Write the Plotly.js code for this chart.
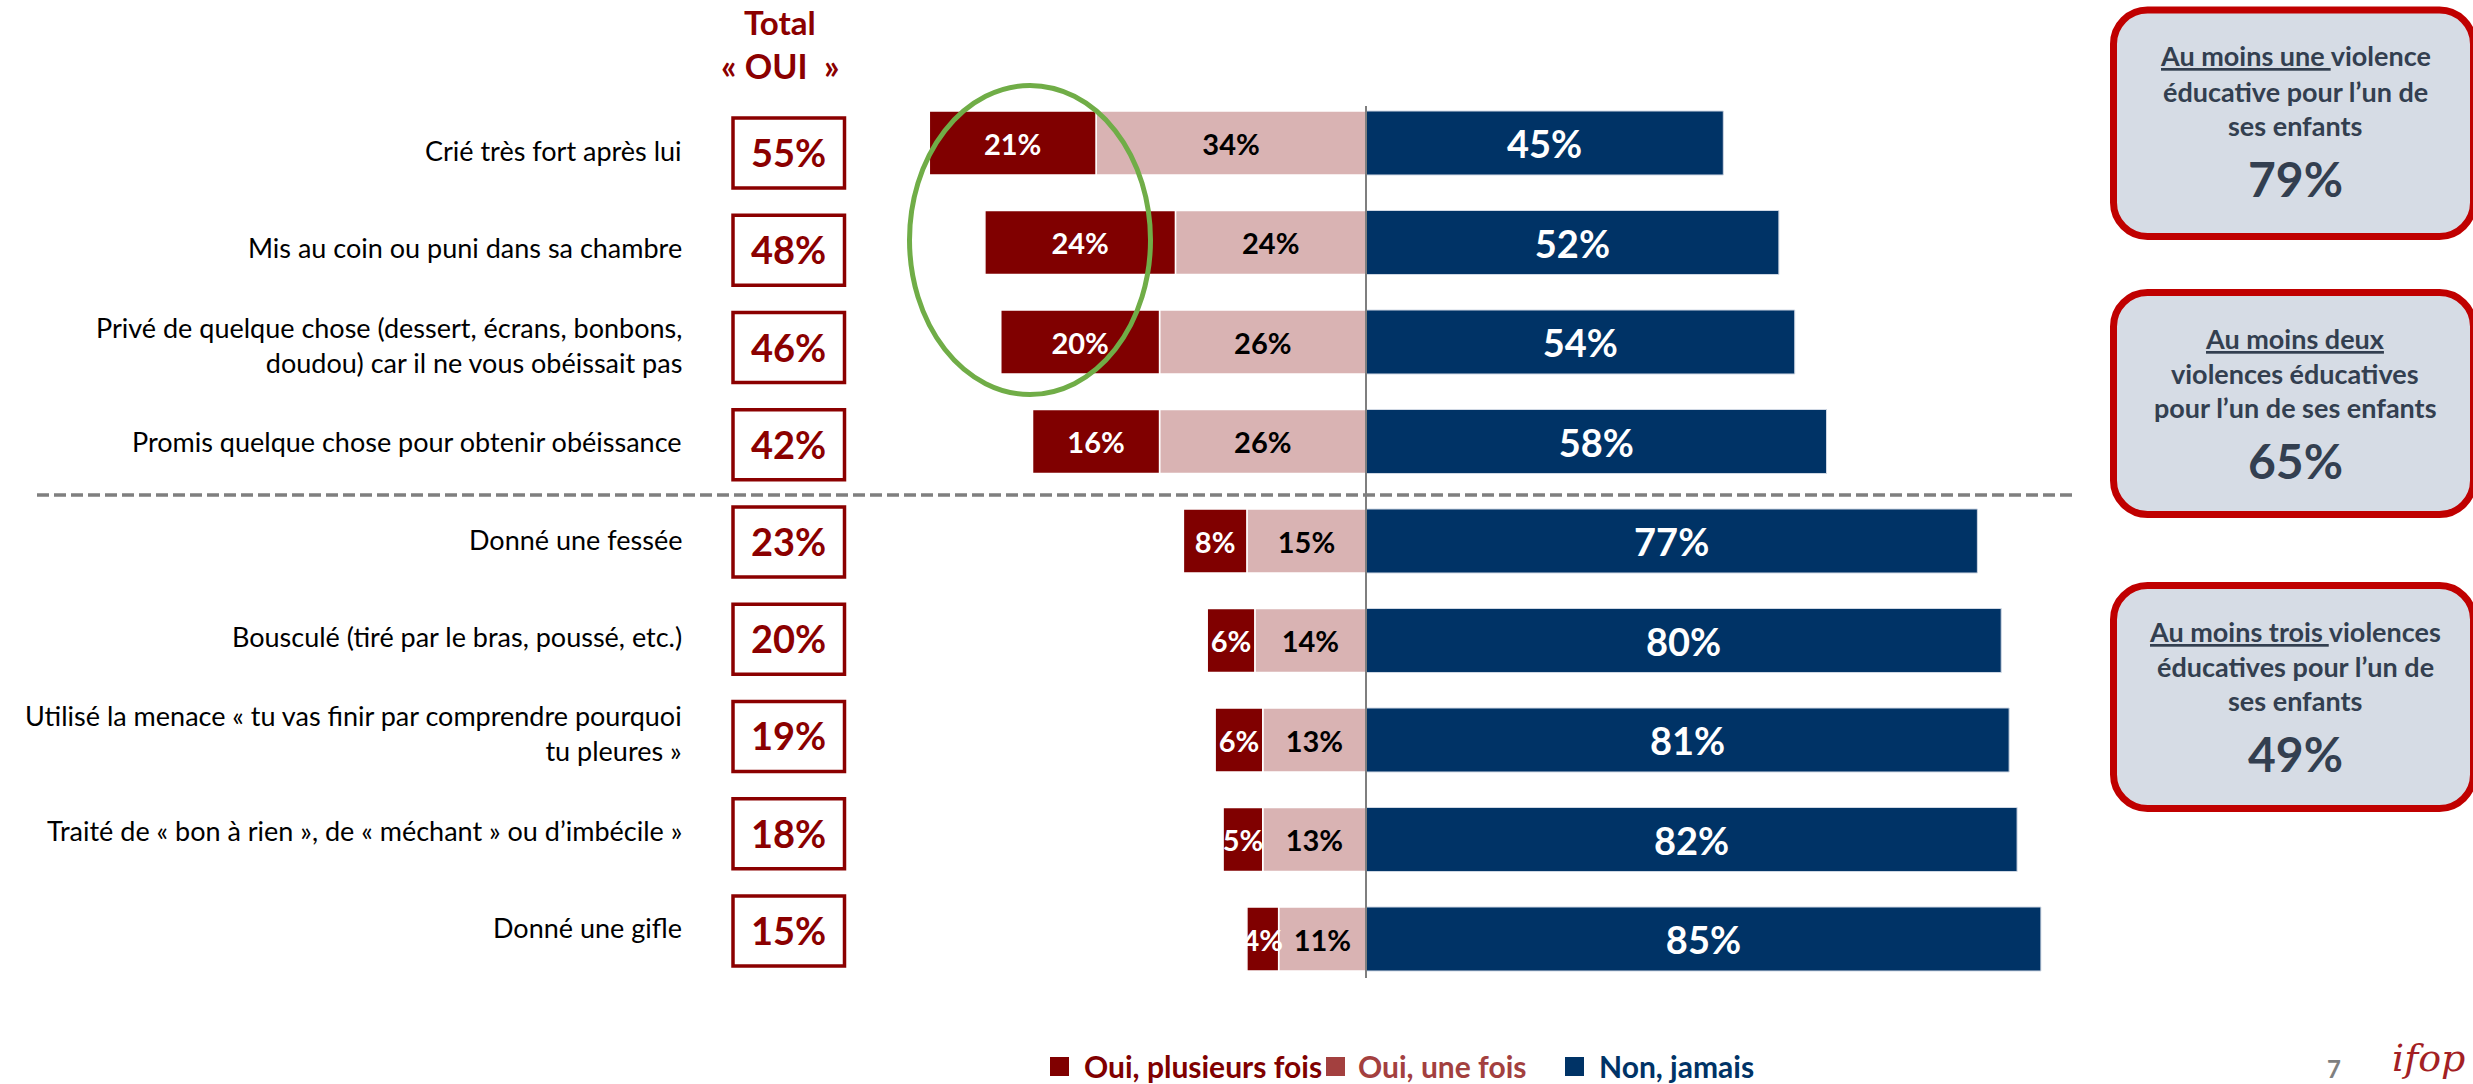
<!DOCTYPE html>
<html><head><meta charset="utf-8">
<script src="https://cdn.plot.ly/plotly-3.0.1.min.js"></script>
<style>html,body{margin:0;padding:0;background:#fff;overflow:hidden}#chart{width:2473px;height:1084px;}</style>
</head><body><div id="chart"></div>
<script>
// ---- data ----
const categories = [
  'Crié très fort après lui',
  'Mis au coin ou puni dans sa chambre',
  'Privé de quelque chose (dessert, écrans, bonbons,<br>doudou) car il ne vous obéissait pas',
  'Promis quelque chose pour obtenir obéissance',
  'Donné une fessée',
  'Bousculé (tiré par le bras, poussé, etc.)',
  'Utilisé la menace « tu vas finir par comprendre pourquoi<br>tu pleures »',
  'Traité de « bon à rien », de « méchant » ou d’imbécile »',
  'Donné une gifle'
];
const ouiPlusieurs = [21, 24, 20, 16, 8, 6, 6, 5, 4];
const ouiUne       = [34, 24, 26, 26, 15, 14, 13, 13, 11];
const nonJamais    = [45, 52, 54, 58, 77, 80, 81, 82, 85];
const totalOui     = [55, 48, 46, 42, 23, 20, 19, 18, 15];
const seriesNames  = ['Oui, plusieurs fois', 'Oui, une fois', 'Non, jamais'];
const totalHeader  = ['Total', '« OUI  »'];
const summaryLines = [
  ['<u>Au moins une </u>violence', 'éducative pour l’un de', 'ses enfants'],
  ['<u>Au moins deux</u>', 'violences éducatives', 'pour l’un de ses enfants'],
  ['<u>Au moins trois </u>violences', 'éducatives pour l’un de', 'ses enfants']
];
const summaryValues = ['79%', '65%', '49%'];
const pageNumber = '7';

// ---- geometry helpers (pixels -> paper) ----
const W = 2473, H = 1084;
const FONT = 'Lato, "Open Sans", sans-serif';
const px = x => x / W;
const py = y => 1 - y / H;
const ZERO = 1366, PPU = 7.94;

const colDark = '#800000', colPink = '#d9b3b3', colBlue = '#003366';
const legendColors = ['#800000', '#a3403f', '#003366'];

const fmt = v => v + '%';

const traces = [
  {type:'bar', orientation:'h', y:categories, x:ouiUne.map(v=>-v), name:seriesNames[1],
   marker:{color:colPink, line:{color:'#ffffff', width:1.5}},
   text:ouiUne.map(fmt), texttemplate:'%{text}', textposition:'inside', insidetextanchor:'middle',
   textangle:0, constraintext:'none', textfont:{family:FONT, size:29, color:'#000000', weight:700},
   hoverinfo:'skip', showlegend:false},
  {type:'bar', orientation:'h', y:categories, x:ouiPlusieurs.map(v=>-v), name:seriesNames[0],
   marker:{color:colDark, line:{color:'#ffffff', width:1.5}},
   text:ouiPlusieurs.map(fmt), texttemplate:'%{text}', textposition:'inside', insidetextanchor:'middle',
   textangle:0, constraintext:'none', textfont:{family:FONT, size:29, color:'#ffffff', weight:700},
   hoverinfo:'skip', showlegend:false},
  {type:'bar', orientation:'h', y:categories, x:nonJamais, name:seriesNames[2],
   marker:{color:colBlue, line:{color:'#d0d8e4', width:1}},
   text:nonJamais.map(fmt), texttemplate:'%{text}', textposition:'inside', insidetextanchor:'middle',
   textangle:0, constraintext:'none', textfont:{family:FONT, size:38, color:'#ffffff', weight:700},
   hoverinfo:'skip', showlegend:false}
];

const shapes = [];
const annotations = [];

// row labels and total boxes (on y2 axis)
categories.forEach((c, i) => {
  annotations.push({xref:'paper', yref:'y2', x:px(684), y:c, xanchor:'right', yanchor:'middle',
    align:'right', text:c, showarrow:false, yshift:3,
    font:{family:FONT, size:27, color:'#000000'}});
  shapes.push({type:'rect', xref:'paper', yref:'y2', x0:px(733), x1:px(844.5), y0:i-0.36, y1:i+0.36,
    line:{color:'#8b0000', width:3.5}, fillcolor:'#ffffff', layer:'above'});
  annotations.push({xref:'paper', yref:'y2', x:px(788.5), y:c, xanchor:'center', yanchor:'middle',
    text:fmt(totalOui[i]), showarrow:false, yshift:1,
    font:{family:FONT, size:38, color:'#8b0000', weight:700}});
});

// header "Total « OUI »"
annotations.push({xref:'paper', yref:'paper', x:px(780), y:py(22), xanchor:'center', yanchor:'middle',
  text:totalHeader[0], showarrow:false, font:{family:FONT, size:33, color:'#8b0000', weight:700}});
annotations.push({xref:'paper', yref:'paper', x:px(780), y:py(66), xanchor:'center', yanchor:'middle',
  text:totalHeader[1], showarrow:false, font:{family:FONT, size:34, color:'#8b0000', weight:700}});

// zero line
shapes.push({type:'line', xref:'x', yref:'paper', x0:0, x1:0, y0:py(978), y1:py(106),
  line:{color:'#7f7f7f', width:2}, layer:'above'});
// dashed separator
shapes.push({type:'line', xref:'paper', yref:'paper', x0:px(37), x1:px(2073), y0:py(495), y1:py(495),
  line:{color:'#7f7f7f', width:3.5, dash:'12px,5px'}});
// green ellipse
shapes.push({type:'circle', xref:'paper', yref:'paper', x0:px(909.5), x1:px(1150.5), y0:py(394.5), y1:py(85.5),
  line:{color:'#70ad47', width:5}, layer:'above'});

// summary rounded boxes
function roundRect(x0, y0, x1, y1, r) {
  const k = 0.5523 * r;
  const P = (x, y) => px(x) + ',' + py(y);
  return 'M' + P(x0 + r, y0) + ' L' + P(x1 - r, y0) +
    ' C' + P(x1 - r + k, y0) + ' ' + P(x1, y0 + r - k) + ' ' + P(x1, y0 + r) +
    ' L' + P(x1, y1 - r) +
    ' C' + P(x1, y1 - r + k) + ' ' + P(x1 - r + k, y1) + ' ' + P(x1 - r, y1) +
    ' L' + P(x0 + r, y1) +
    ' C' + P(x0 + r - k, y1) + ' ' + P(x0, y1 - r + k) + ' ' + P(x0, y1 - r) +
    ' L' + P(x0, y0 + r) +
    ' C' + P(x0, y0 + r - k) + ' ' + P(x0 + r - k, y0) + ' ' + P(x0 + r, y0) + ' Z';
}
const boxTops = [10, 292.5, 585.5], boxBottoms = [236.5, 514.5, 808.5];
const lineOffsets = [46, 81, 115], valueOffset = 168;
summaryLines.forEach((lines, b) => {
  shapes.push({type:'path', xref:'paper', yref:'paper',
    path:roundRect(2113.5, boxTops[b], 2473.5, boxBottoms[b], 34),
    line:{color:'#c00000', width:7}, fillcolor:'#d6dce5'});
  lines.forEach((t, j) => {
    annotations.push({xref:'paper', yref:'paper', x:px(2295), y:py(boxTops[b] + lineOffsets[j]),
      xanchor:'center', yanchor:'middle', text:t, showarrow:false,
      font:{family:FONT, size:27, color:'#333f50', weight:700}});
  });
  annotations.push({xref:'paper', yref:'paper', x:px(2295), y:py(boxTops[b] + valueOffset),
    xanchor:'center', yanchor:'middle', text:summaryValues[b], showarrow:false,
    font:{family:FONT, size:48, color:'#333f50', weight:700}});
});

// custom legend
const legendMarkX = [1050, 1326, 1565], legendTextX = [1082, 1356, 1597];
const legendY = 1066;
seriesNames.forEach((n, i) => {
  shapes.push({type:'rect', xref:'paper', yref:'paper', x0:px(legendMarkX[i]), x1:px(legendMarkX[i] + 19),
    y0:py(legendY + 10), y1:py(legendY - 9), line:{width:0}, fillcolor:legendColors[i]});
  annotations.push({xref:'paper', yref:'paper', x:px(legendTextX[i]), y:py(legendY), xanchor:'left', yanchor:'middle',
    text:n, showarrow:false, font:{family:FONT, size:30, color:legendColors[i], weight:700}});
});

// page number and logo text
annotations.push({xref:'paper', yref:'paper', x:px(2334), y:py(1068), xanchor:'center', yanchor:'middle',
  text:pageNumber, showarrow:false, font:{family:FONT, size:24, color:'#7f7f7f', weight:700}});
annotations.push({xref:'paper', yref:'paper', x:px(2390), y:py(1058), xanchor:'left', yanchor:'middle',
  text:'<i>ifop</i>', showarrow:false, font:{family:'"DejaVu Serif", serif', size:38, color:'#a31f24'}});

const layout = {
  width:W, height:H, margin:{l:0, r:0, t:0, b:0}, paper_bgcolor:'#ffffff', plot_bgcolor:'rgba(0,0,0,0)',
  barmode:'relative', bargap:0.357, showlegend:false, hovermode:false,
  xaxis:{domain:[0,1], range:[-ZERO/PPU, (W-ZERO)/PPU], visible:false, fixedrange:true},
  yaxis:{domain:[py(988.75), py(93.25)], type:'category', range:[8.5,-0.5], visible:false, fixedrange:true},
  yaxis2:{domain:[py(979.6), py(104.4)], type:'category', categoryarray:categories, categoryorder:'array',
          range:[8.5,-0.5], visible:false, anchor:'x', fixedrange:true},
  shapes:shapes, annotations:annotations
};
// invisible trace to register y2 categories
traces.push({type:'scatter', x:categories.map(()=>0), y:categories, yaxis:'y2', mode:'markers',
  marker:{opacity:0}, hoverinfo:'skip', showlegend:false});

Plotly.newPlot('chart', traces, layout, {staticPlot:true, displayModeBar:false});
</script></body></html>
